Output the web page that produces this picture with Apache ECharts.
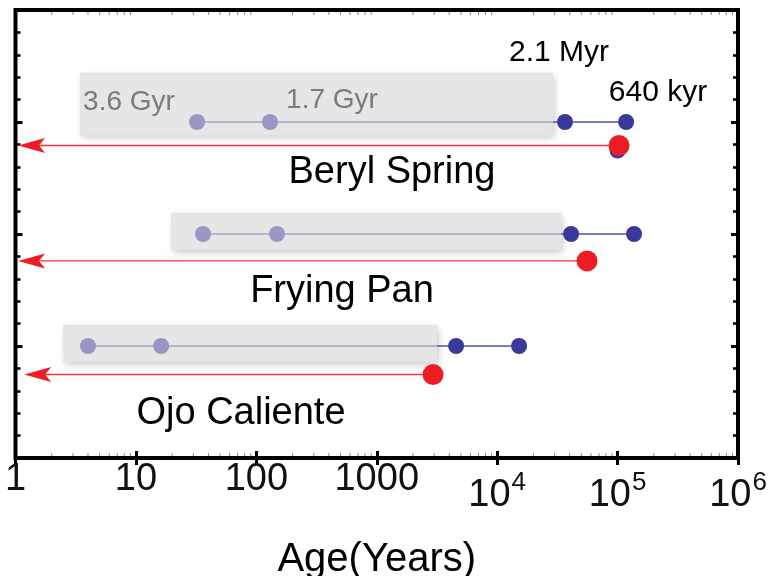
<!DOCTYPE html>
<html>
<head>
<meta charset="utf-8">
<script src="https://cdn.jsdelivr.net/npm/echarts@6/dist/echarts.min.js"></script>
<style>
  html, body { margin: 0; padding: 0; background: #fff; }
  #chart { width: 773px; height: 576px; }
</style>
</head>
<body>
<div id="chart"></div>
<script>
// Springs, one row each (row level on the y scale)
const rowNames = ['Beryl Spring', 'Frying Pan', 'Ojo Caliente'];
const rowLevel = [3, 2, 1];

// Age steps along each row, in years (first two sit inside the shaded band)
const stepAges = [
  [32.2, 130, 36600, 117700],
  [36.1, 148.5, 41100, 137000],
  [4.0, 16.2, 4560, 15200]
];

// Extra age point just under the Beryl Spring red marker
const berylLowAge = 100000;
const berylLowLevel = 2.745;

// Red markers: age and level; arrows run from each back toward 1 year
const redAges = [102800, 55800, 2935];
const redLevels = [2.79, 1.76, 0.745];
const arrowTipAges = [1.05, 1.05, 1.18];

// Shaded bands: [start age, end age, top level, bottom level]
const bandStart = [3.43, 19.6, 2.48];
const bandEnd = [29100, 33960, 3170];
const bandTop = [3.44, 2.19, 1.19];
const bandBottom = [2.88, 1.86, 0.86];

// Annotation texts
const annotTexts = ['3.6 Gyr', '1.7 Gyr', '2.1 Myr', '640 kyr'];

// Axis
const xMin = 1, xMax = 1e6;
const yMin = 0, yMax = 4;
const xTitle = 'Age(Years)';

const FONT = "'Liberation Sans', Arial, Helvetica, sans-serif";

// log minor tick positions (2..9 within each decade)
const minorTickVals = [];
for (let e = 0; e < 6; e++) {
  for (let m = 2; m <= 9; m++) minorTickVals.push(m * Math.pow(10, e));
}

const bandData = bandStart.map((s, i) => [s, bandEnd[i], bandTop[i], bandBottom[i]]);

function bandRenderer(fill, withShadow) {
  return function (params, api) {
    const p0 = api.coord([api.value(0), api.value(2)]);
    const p1 = api.coord([api.value(1), api.value(3)]);
    const style = { fill: fill };
    if (withShadow) {
      style.shadowBlur = 7;
      style.shadowOffsetX = 2;
      style.shadowOffsetY = 3;
      style.shadowColor = 'rgba(0,0,0,0.22)';
    }
    return {
      type: 'rect',
      shape: { x: p0[0], y: p0[1], width: p1[0] - p0[0], height: p1[1] - p0[1] },
      style: style
    };
  };
}

const series = [];

// band base (opaque, with soft shadow) below the rows
series.push({
  type: 'custom',
  xAxisIndex: 0, yAxisIndex: 0,
  data: bandData,
  renderItem: bandRenderer('#e6e6e6', true),
  silent: true,
  z: 1
});

// connecting lines
rowNames.forEach((name, i) => {
  series.push({
    type: 'line',
    name: name,
    xAxisIndex: 0, yAxisIndex: 0,
    data: stepAges[i].map(a => [a, rowLevel[i]]),
    showSymbol: false,
    symbol: 'none',
    lineStyle: { color: '#4a5a9c', width: 1.3 },
    silent: true,
    z: 2
  });
});

// age points
const bluePts = [[berylLowAge, berylLowLevel]];
rowNames.forEach((name, i) => {
  stepAges[i].forEach(a => bluePts.push([a, rowLevel[i]]));
});
series.push({
  type: 'scatter',
  xAxisIndex: 0, yAxisIndex: 0,
  data: bluePts,
  symbol: 'circle',
  symbolSize: 16,
  itemStyle: { color: '#38399a', opacity: 1 },
  silent: true,
  z: 3
});

// translucent veil over the band contents
series.push({
  type: 'custom',
  xAxisIndex: 0, yAxisIndex: 0,
  data: bandData,
  renderItem: bandRenderer('rgba(230,230,230,0.55)', false),
  silent: true,
  z: 4
});

// red arrows: shaft from each marker to the tip, swept head at the tip
series.push({
  type: 'custom',
  xAxisIndex: 0, yAxisIndex: 0,
  data: redAges.map((a, i) => [a, redLevels[i], arrowTipAges[i]]),
  renderItem: function (params, api) {
    const from = api.coord([api.value(0), api.value(1)]);
    const tip = api.coord([api.value(2), api.value(1)]);
    const tx = tip[0], ty = tip[1];
    return {
      type: 'group',
      children: [
        {
          type: 'line',
          shape: { x1: from[0], y1: from[1], x2: tx + 20, y2: ty },
          style: { stroke: '#f0373c', lineWidth: 1.4 }
        },
        {
          type: 'polygon',
          shape: { points: [[tx, ty], [tx + 27, ty - 7.5], [tx + 21, ty], [tx + 27, ty + 7.5]] },
          style: { fill: '#ee1c25' }
        }
      ]
    };
  },
  silent: true,
  z: 5
});

// red markers
series.push({
  type: 'scatter',
  xAxisIndex: 0, yAxisIndex: 0,
  data: redAges.map((a, i) => [a, redLevels[i]]),
  symbol: 'circle',
  symbolSize: 21,
  itemStyle: { color: '#ec1c24', opacity: 1 },
  silent: true,
  z: 6
});

// log minor ticks along top and bottom edges
series.push({
  type: 'custom',
  xAxisIndex: 0, yAxisIndex: 0,
  data: minorTickVals.map(v => [v]),
  renderItem: function (params, api) {
    const b = api.coord([api.value(0), yMin]);
    const t = api.coord([api.value(0), yMax]);
    return {
      type: 'group',
      children: [
        { type: 'line', shape: { x1: b[0], y1: b[1] - 2, x2: b[0], y2: b[1] - 5 }, style: { stroke: '#8a8a8a', lineWidth: 1 } },
        { type: 'line', shape: { x1: t[0], y1: t[1] + 2, x2: t[0], y2: t[1] + 5 }, style: { stroke: '#8a8a8a', lineWidth: 1 } }
      ]
    };
  },
  silent: true,
  z: 7
});

function tickLabel(v) {
  const e = Math.round(Math.log10(v));
  if (e <= 3) return '{b|' + Math.round(v) + '}';
  return '{p|10}{s|' + e + '}';
}

const yAxisBase = {
  type: 'value', min: yMin, max: yMax, interval: 1,
  axisLine: { show: false },
  axisLabel: { show: false },
  splitLine: { show: false },
  axisTick: { show: true, inside: true, length: 7, lineStyle: { color: '#000', width: 3 } },
  minorTick: { show: true, splitNumber: 5, length: 5, lineStyle: { color: '#000', width: 2.5 } }
};

function textEl(x, y, text, size, color) {
  return {
    type: 'text', x: x, y: y, z: 10,
    style: {
      text: text, font: size + 'px ' + FONT, fill: color,
      align: 'center', verticalAlign: 'middle',
      textAlign: 'center', textVerticalAlign: 'middle'
    }
  };
}

const option = {
  animation: false,
  backgroundColor: '#fff',
  grid: {
    left: 15.5, top: 10, right: 35, bottom: 118,
    show: true, borderColor: '#000', borderWidth: 4,
    backgroundColor: 'transparent',
    outerBoundsMode: 'none'
  },
  xAxis: [
    {
      type: 'log', logBase: 10, min: xMin, max: xMax, position: 'bottom',
      name: xTitle, nameLocation: 'middle', nameGap: 82,
      nameTextStyle: { fontFamily: FONT, fontSize: 40, color: '#000' },
      axisLine: { show: false },
      splitLine: { show: false },
      axisTick: { show: true, inside: true, length: 7, lineStyle: { color: '#000', width: 3 } },
      axisLabel: {
        show: true, margin: 3, formatter: tickLabel, hideOverlap: false,
        showMinLabel: true, showMaxLabel: true,
        rich: {
          b: { fontFamily: FONT, fontSize: 38, color: '#111', lineHeight: 38 },
          p: { fontFamily: FONT, fontSize: 38, color: '#111', lineHeight: 54, verticalAlign: 'bottom' },
          s: { fontFamily: FONT, fontSize: 26, color: '#111', lineHeight: 26, verticalAlign: 'top', padding: [9, 0, 0, 1] }
        }
      }
    },
    {
      type: 'log', logBase: 10, min: xMin, max: xMax, position: 'top',
      axisLine: { show: false },
      splitLine: { show: false },
      axisLabel: { show: false },
      axisTick: { show: true, inside: true, length: 7, lineStyle: { color: '#000', width: 3 } }
    }
  ],
  yAxis: [
    Object.assign({ position: 'left' }, yAxisBase),
    Object.assign({ position: 'right' }, yAxisBase)
  ],
  graphic: [
    textEl(392, 173, rowNames[0], 38, '#000'),
    textEl(342, 292, rowNames[1], 38, '#000'),
    textEl(241, 414, rowNames[2], 38, '#000'),
    textEl(129, 102, annotTexts[0], 28, '#7b7b7b'),
    textEl(332, 100, annotTexts[1], 28, '#7b7b7b'),
    textEl(559, 53, annotTexts[2], 30, '#000'),
    textEl(658, 93, annotTexts[3], 30, '#000')
  ],
  series: series
};

const chart = echarts.init(document.getElementById('chart'), null, { renderer: 'canvas' });
chart.setOption(option);
</script>
</body>
</html>
